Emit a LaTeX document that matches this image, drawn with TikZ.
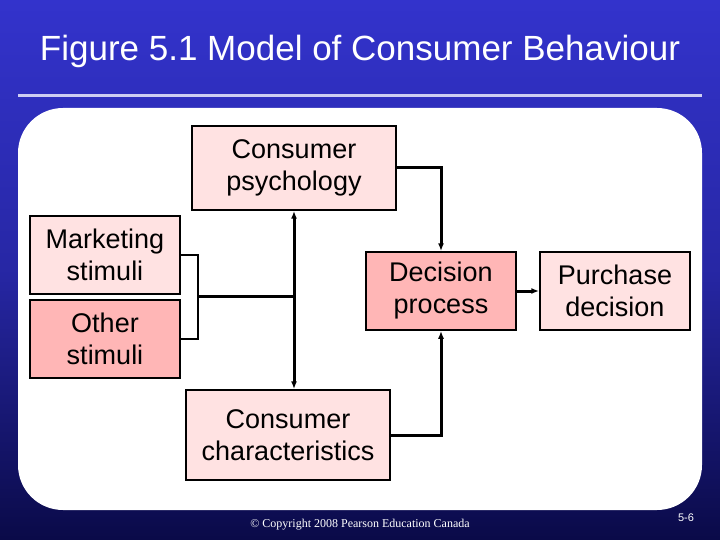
\documentclass[tikz,border=0pt]{standalone}
\usepackage{fontspec}
\setmainfont{Liberation Sans}
\newfontfamily\serifft{Liberation Serif}
\usepackage{xcolor}
\usetikzlibrary{arrows.meta,positioning,calc}
\definecolor{slidetop}{RGB}{51,51,204}
\definecolor{slidebot}{RGB}{10,10,72}
\definecolor{rulecol}{RGB}{206,206,242}
\definecolor{pinklite}{RGB}{255,226,226}
\definecolor{pinkdark}{RGB}{255,182,182}

\begin{document}
\begin{tikzpicture}[x=1pt, y=-1pt,
  every node/.style={font=\fontsize{27}{32}\selectfont},
  box/.style={draw, line width=1.5pt, align=center, inner sep=2pt,
              minimum width=150pt, minimum height=78pt},
  ln/.style={line width=3pt},
  ar/.style={-{Latex[length=8pt,width=6pt]}, line width=3pt}]
  % slide background
  \shade[top color=slidetop, bottom color=slidebot, middle color=slidetop!70!slidebot]
    (0,0) rectangle (720,540);
  \useasboundingbox (0,0) rectangle (720,540);
  \fill[white, rounded corners=45pt] (18,108) rectangle (702,510);
  \draw[rulecol, line width=3pt] (18,96) -- (702,96);
  \node[text=white, font=\fontsize{35}{40}\selectfont] (title) at (360,51)
    {Figure 5.1 Model of Consumer Behaviour};
  % boxes
  \node[box, fill=pinklite, minimum width=204pt, minimum height=84pt] (psy) at (294,168)
    {Consumer\\psychology};
  \node[box, fill=pinklite] (mkt) at (105,255) {Marketing\\stimuli};
  \node[box, fill=pinkdark] (oth) at (105,339) {Other\\stimuli};
  \node[box, fill=pinkdark] (dec) at (441,291) {Decision\\process};
  \node[box, fill=pinklite] (pur) at (615,291) {Purchase\\decision};
  \node[box, fill=pinklite, minimum width=204pt, minimum height=90pt] (chr) at (288,435)
    {Consumer\\characteristics};
  % connectors
  \coordinate (brk) at (198,296);
  \draw[line width=1.6pt] (mkt.east) -| (brk) |- (oth.east);
  \draw[ln] (brk) -- (brk -| psy.south);
  \draw[ar, {Latex[length=8pt,width=6pt]}-{Latex[length=8pt,width=6pt]}]
    (psy.south) -- (psy.south |- chr.north);
  \draw[ar] (psy.east) -| (dec.north);
  \draw[ar] (chr.east) -| (dec.south);
  \draw[ar] (dec) -- (pur);
  % footer
  \node[text=white, font=\serifft\fontsize{12}{14}\selectfont] (copy) at (360,525)
    {\textcopyright{} Copyright 2008 Pearson Education Canada};
  \node[text=white, font=\fontsize{11}{13}\selectfont] (pg) at (686,518) {5-6};
\end{tikzpicture}
\end{document}
